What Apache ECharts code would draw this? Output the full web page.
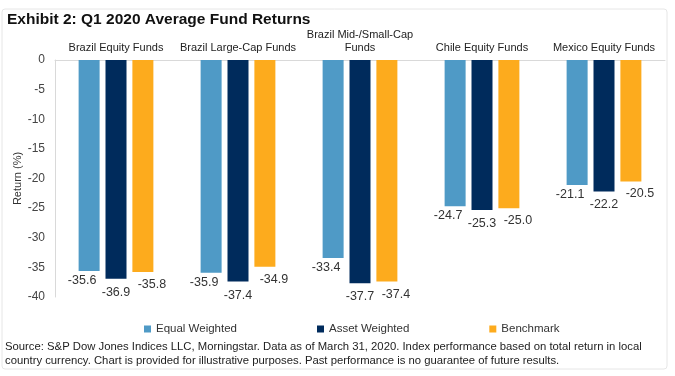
<!DOCTYPE html>
<html>
<head>
<meta charset="utf-8">
<script src="https://cdn.jsdelivr.net/npm/echarts@6/dist/echarts.min.js"></script>
<style>
  html, body { margin: 0; padding: 0; background: #fff; }
  #chart { width: 675px; height: 376px; }
</style>
</head>
<body>
<div id="chart"></div>
<script>
var categories = ['Brazil Equity Funds', 'Brazil Large-Cap Funds', 'Brazil Mid-/Small-Cap\nFunds', 'Chile Equity Funds', 'Mexico Equity Funds'];
var equalWeighted = [-35.6, -35.9, -33.4, -24.7, -21.1];
var assetWeighted = [-36.9, -37.4, -37.7, -25.3, -22.2];
var benchmark = [-35.8, -34.9, -37.4, -25.0, -20.5];
var yTicks = { min: -40, max: 0, interval: 5 };

var font = 'Liberation Sans, Arial, sans-serif';

// labels are nudged like the excel original (left / below / right)
function makeSeries(name, data, color, dx, dist) {
    return {
        name: name,
        type: 'bar',
        data: data,
        barWidth: 21,
        barGap: '28%',
        itemStyle: { color: color },
        label: {
            show: true,
            position: 'bottom',
            distance: dist,
            offset: [dx, 0],
            color: '#333',
            fontSize: 12.5,
            fontFamily: font,
            formatter: function (p) { return p.value.toFixed(1); }
        }
    };
}

var myChart = echarts.init(document.getElementById('chart'));
var option = {
    animation: false,
    title: {
        text: 'Exhibit 2: Q1 2020 Average Fund Returns',
        left: 2,
        top: 7,
        textStyle: { fontSize: 15.5, fontWeight: 'bold', color: '#111', fontFamily: font }
    },
    graphic: [{
        type: 'rect',
        shape: { x: 2, y: 9, width: 665, height: 360, r: 3 },
        style: { fill: 'none', stroke: '#e6e6e6', lineWidth: 1 },
        z: -1
    }, {
        type: 'text',
        left: 5,
        top: 340,
        style: {
            text: 'Source: S&P Dow Jones Indices LLC, Morningstar. Data as of March 31, 2020. Index performance based on total return in local\ncountry currency. Chart is provided for illustrative purposes. Past performance is no guarantee of future results.',
            fontSize: 11.3,
            lineHeight: 14,
            fill: '#222',
            fontFamily: font
        }
    }],
    legend: {
        top: 318,
        left: 139,
        itemWidth: 7,
        itemHeight: 7,
        itemGap: 80,
        icon: 'rect',
        textStyle: { fontSize: 11.5, color: '#333', fontFamily: font }
    },
    grid: { left: 55, right: 10, top: 60, bottom: 79 },
    xAxis: {
        type: 'category',
        position: 'top',
        data: categories,
        axisLine: { lineStyle: { color: '#d9d9d9' } },
        axisTick: { show: false },
        axisLabel: { interval: 0, margin: 6, fontSize: 11, lineHeight: 13, color: '#222', fontFamily: font }
    },
    yAxis: {
        type: 'value',
        min: yTicks.min,
        max: yTicks.max,
        interval: yTicks.interval,
        name: 'Return (%)',
        nameLocation: 'middle',
        nameGap: 32,
        nameMoveOverlap: false,
        nameTextStyle: { fontSize: 11, color: '#333', fontFamily: font },
        axisLine: { show: true, lineStyle: { color: '#d9d9d9' } },
        axisTick: { show: false },
        splitLine: { show: false },
        axisLabel: { fontSize: 12, color: '#444', margin: 10, fontFamily: font }
    },
    series: [
        makeSeries('Equal Weighted', equalWeighted, '#4f9ac6', -7, 3),
        makeSeries('Asset Weighted', assetWeighted, '#002b5c', 0, 7),
        makeSeries('Benchmark', benchmark, '#fdab1d', 9, 6)
    ]
};
myChart.setOption(option);
</script>
</body>
</html>
